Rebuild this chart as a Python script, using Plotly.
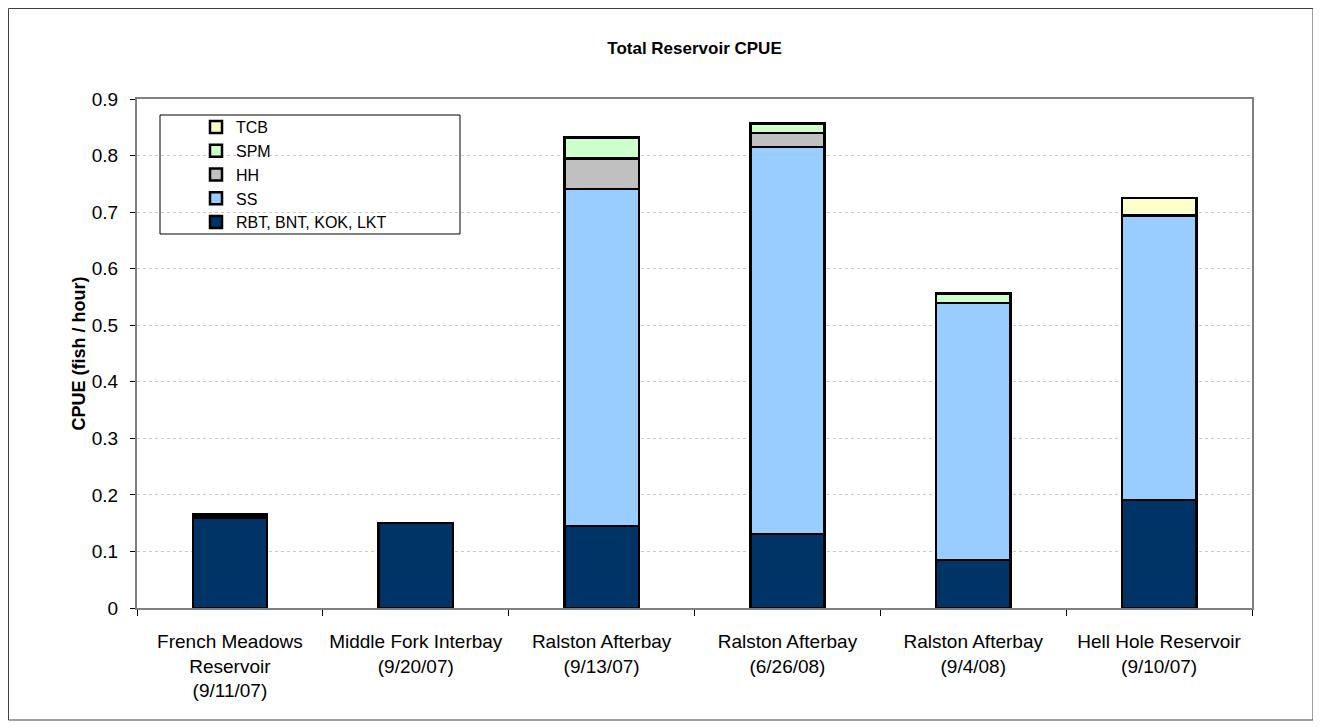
import plotly.graph_objects as go

# Sites sampled (x categories)
sites = [
    "French Meadows<br>Reservoir<br>(9/11/07)",
    "Middle Fork Interbay<br>(9/20/07)",
    "Ralston Afterbay<br>(9/13/07)",
    "Ralston Afterbay<br>(6/26/08)",
    "Ralston Afterbay<br>(9/4/08)",
    "Hell Hole Reservoir<br>(9/10/07)",
]

# CPUE by species group (fish / hour)
rbt_bnt_kok_lkt = [0.160, 0.150, 0.145, 0.131, 0.085, 0.191]
ss = [0.005, 0.0, 0.596, 0.684, 0.454, 0.503]
hh = [0.0, 0.0, 0.054, 0.025, 0.0, 0.0]
spm = [0.0, 0.0, 0.037, 0.017, 0.017, 0.0]
tcb = [0.0, 0.0, 0.0, 0.0, 0.0, 0.031]

series = [
    ("RBT, BNT, KOK, LKT", rbt_bnt_kok_lkt, "#003366"),
    ("SS", ss, "#99CCFF"),
    ("HH", hh, "#C0C0C0"),
    ("SPM", spm, "#CCFFCC"),
    ("TCB", tcb, "#FFFFCC"),
]

# page body has an 8px margin, so the figure is drawn at (8, 8)
W, H = 1313, 720
L, R, T, B = 129, 69, 91, 120
pw, ph = W - L - R, H - T - B


def px_x(x):
    return (x - L) / pw


def px_y(y):
    return 1 - (y - T) / ph


fig = go.Figure()

for name, vals, color in series:
    fig.add_trace(go.Bar(
        x=sites,
        y=vals,
        name=name,
        marker=dict(color=color, line=dict(color="black", width=2.5)),
    ))

fig.update_layout(
    width=W,
    height=H,
    barmode="stack",
    bargap=0.6,
    margin=dict(l=L, r=R, t=T, b=B),
    paper_bgcolor="white",
    plot_bgcolor="white",
    font=dict(family="Liberation Sans, Arial, sans-serif", size=18, color="black"),
    title=dict(
        text="<b>Total Reservoir CPUE</b>",
        x=(L + pw / 2) / W,
        xanchor="center",
        y=1 - 40 / H,
        yanchor="middle",
        font=dict(size=17),
    ),
    legend=dict(
        traceorder="reversed",
        x=px_x(188),
        xanchor="left",
        y=px_y(102),
        yanchor="top",
        bgcolor="rgba(0,0,0,0)",
        borderwidth=0,
        font=dict(size=16),
    ),
    showlegend=True,
)

fig.update_yaxes(
    range=[0, 0.9],
    dtick=0.1,
    showgrid=True,
    gridcolor="#c8c8c8",
    griddash="dot",
    showline=True,
    linecolor="#808080",
    linewidth=2,
    mirror=True,
    ticks="outside",
    ticklen=5,
    tickcolor="black",
    ticklabelstandoff=8,
    zeroline=False,
    tickfont=dict(size=19),
)

fig.update_xaxes(
    showline=True,
    linecolor="#808080",
    linewidth=2,
    mirror=True,
    ticks="outside",
    tickson="boundaries",
    ticklen=6,
    tickcolor="black",
    ticklabelstandoff=15,
    showgrid=False,
    tickfont=dict(size=19),
)

# y axis title
fig.add_annotation(
    text="<b>CPUE (fish / hour)</b>",
    xref="paper", yref="paper",
    x=px_x(70), y=0.5,
    xanchor="center", yanchor="middle",
    textangle=-90,
    showarrow=False,
    font=dict(size=18),
)

# legend box
fig.add_shape(
    type="rect", xref="paper", yref="paper",
    x0=px_x(152), x1=px_x(452),
    y0=px_y(226), y1=px_y(107),
    line=dict(color="black", width=1),
    fillcolor="white", layer="below",
)

# outer chart border
fig.add_shape(
    type="rect", xref="paper", yref="paper",
    x0=px_x(0.5), x1=px_x(1305),
    y0=px_y(712), y1=px_y(0.5),
    line=dict(color="#404040", width=1),
)

fig.write_html("out.html")
